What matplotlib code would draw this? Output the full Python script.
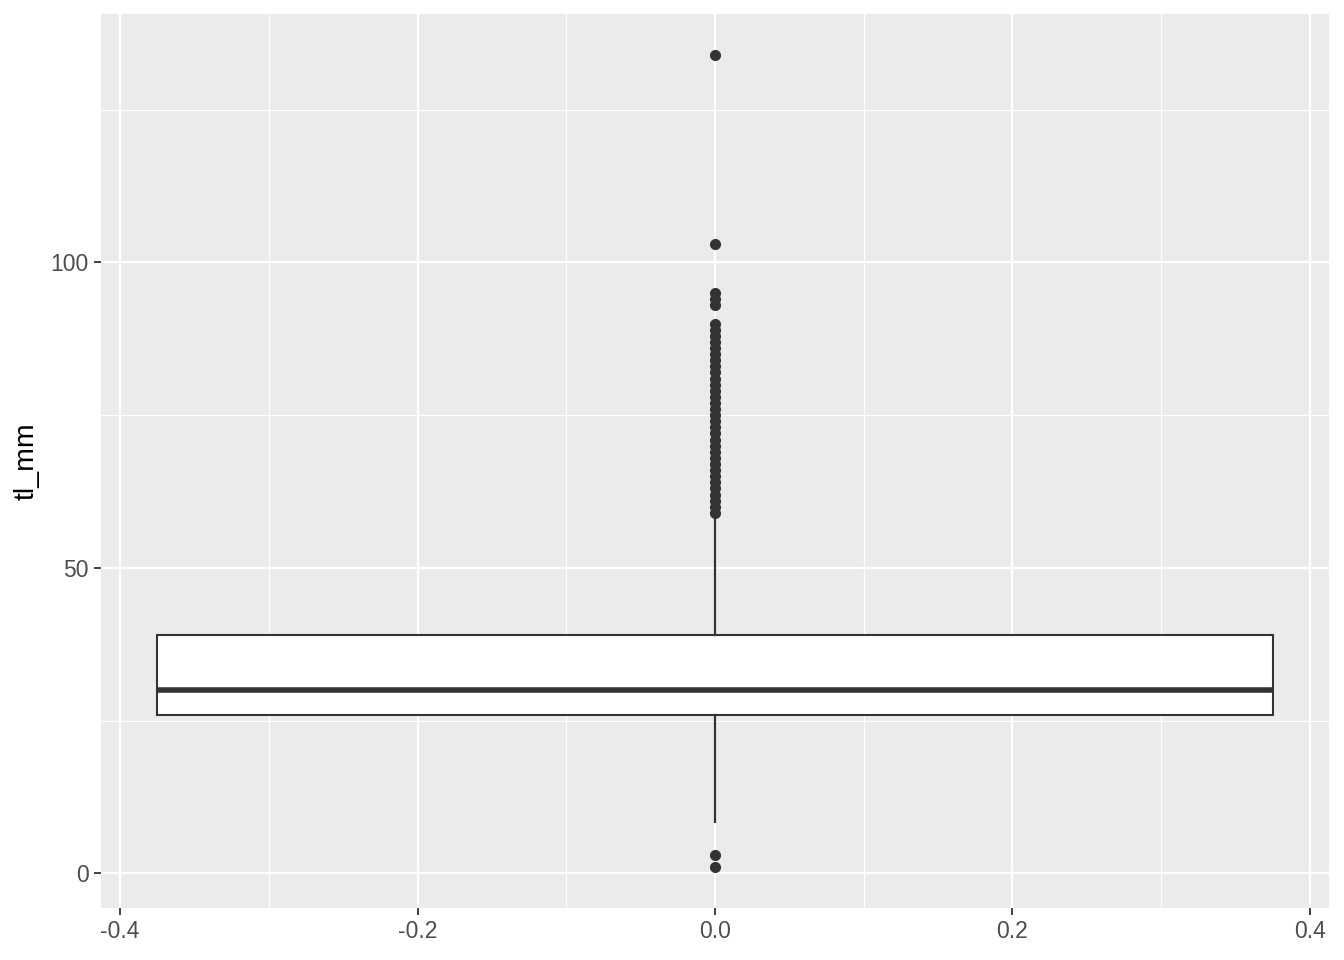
import matplotlib
matplotlib.use("Agg")
import matplotlib.pyplot as plt
from matplotlib.ticker import MultipleLocator

# boxplot summary of tl_mm
q1 = 26
median = 30
q3 = 39
whisker_low = 8.5
whisker_high = 58
outliers = [1, 3] + list(range(59, 91)) + [93, 94, 95, 103, 134]

box_width = 0.75
x_ticks = [-0.4, -0.2, 0.0, 0.2, 0.4]
y_ticks = [0, 50, 100]

plt.rcParams['font.family'] = ['Liberation Sans', 'DejaVu Sans']

fig = plt.figure(figsize=(13.44, 9.6), dpi=100)
ax = fig.add_axes([0.0755, 0.0542, 0.913, 0.9312])
ax.set_facecolor('#EBEBEB')

stats = [{
    'med': median, 'q1': q1, 'q3': q3,
    'whislo': whisker_low, 'whishi': whisker_high,
    'fliers': outliers, 'label': '',
}]
dark = '#333333'
ax.bxp(stats, positions=[0.0], widths=box_width, patch_artist=True,
       showcaps=False,
       boxprops=dict(facecolor='white', edgecolor=dark, linewidth=1.5),
       medianprops=dict(color=dark, linewidth=4, solid_capstyle='butt'),
       whiskerprops=dict(color=dark, linewidth=1.6),
       flierprops=dict(marker='o', markerfacecolor=dark, markeredgecolor=dark,
                       markersize=7, linestyle='none'),
       zorder=3)

ax.set_xlim(-0.4125, 0.4125)
ax.set_ylim(-5.65, 140.65)

ax.set_xticks(x_ticks)
ax.set_xticklabels([f'{v:.1f}' for v in x_ticks])
ax.set_yticks(y_ticks)
ax.set_yticklabels([str(v) for v in y_ticks])
ax.xaxis.set_minor_locator(MultipleLocator(0.1))
ax.yaxis.set_minor_locator(MultipleLocator(25))

ax.grid(True, which='major', color='white', linewidth=1.6, zorder=0)
ax.grid(True, which='minor', color='white', linewidth=0.8, zorder=0)
ax.set_axisbelow(True)

for s in ax.spines.values():
    s.set_visible(False)

ax.tick_params(axis='both', which='major', length=5, width=1.3, color=dark,
               labelcolor='#4D4D4D', labelsize=16.5, pad=4)
ax.tick_params(axis='both', which='minor', length=0)

ax.set_ylabel('tl_mm', fontsize=20.5, color='black', labelpad=8)

fig.savefig('out.png', dpi=100, facecolor='white')
